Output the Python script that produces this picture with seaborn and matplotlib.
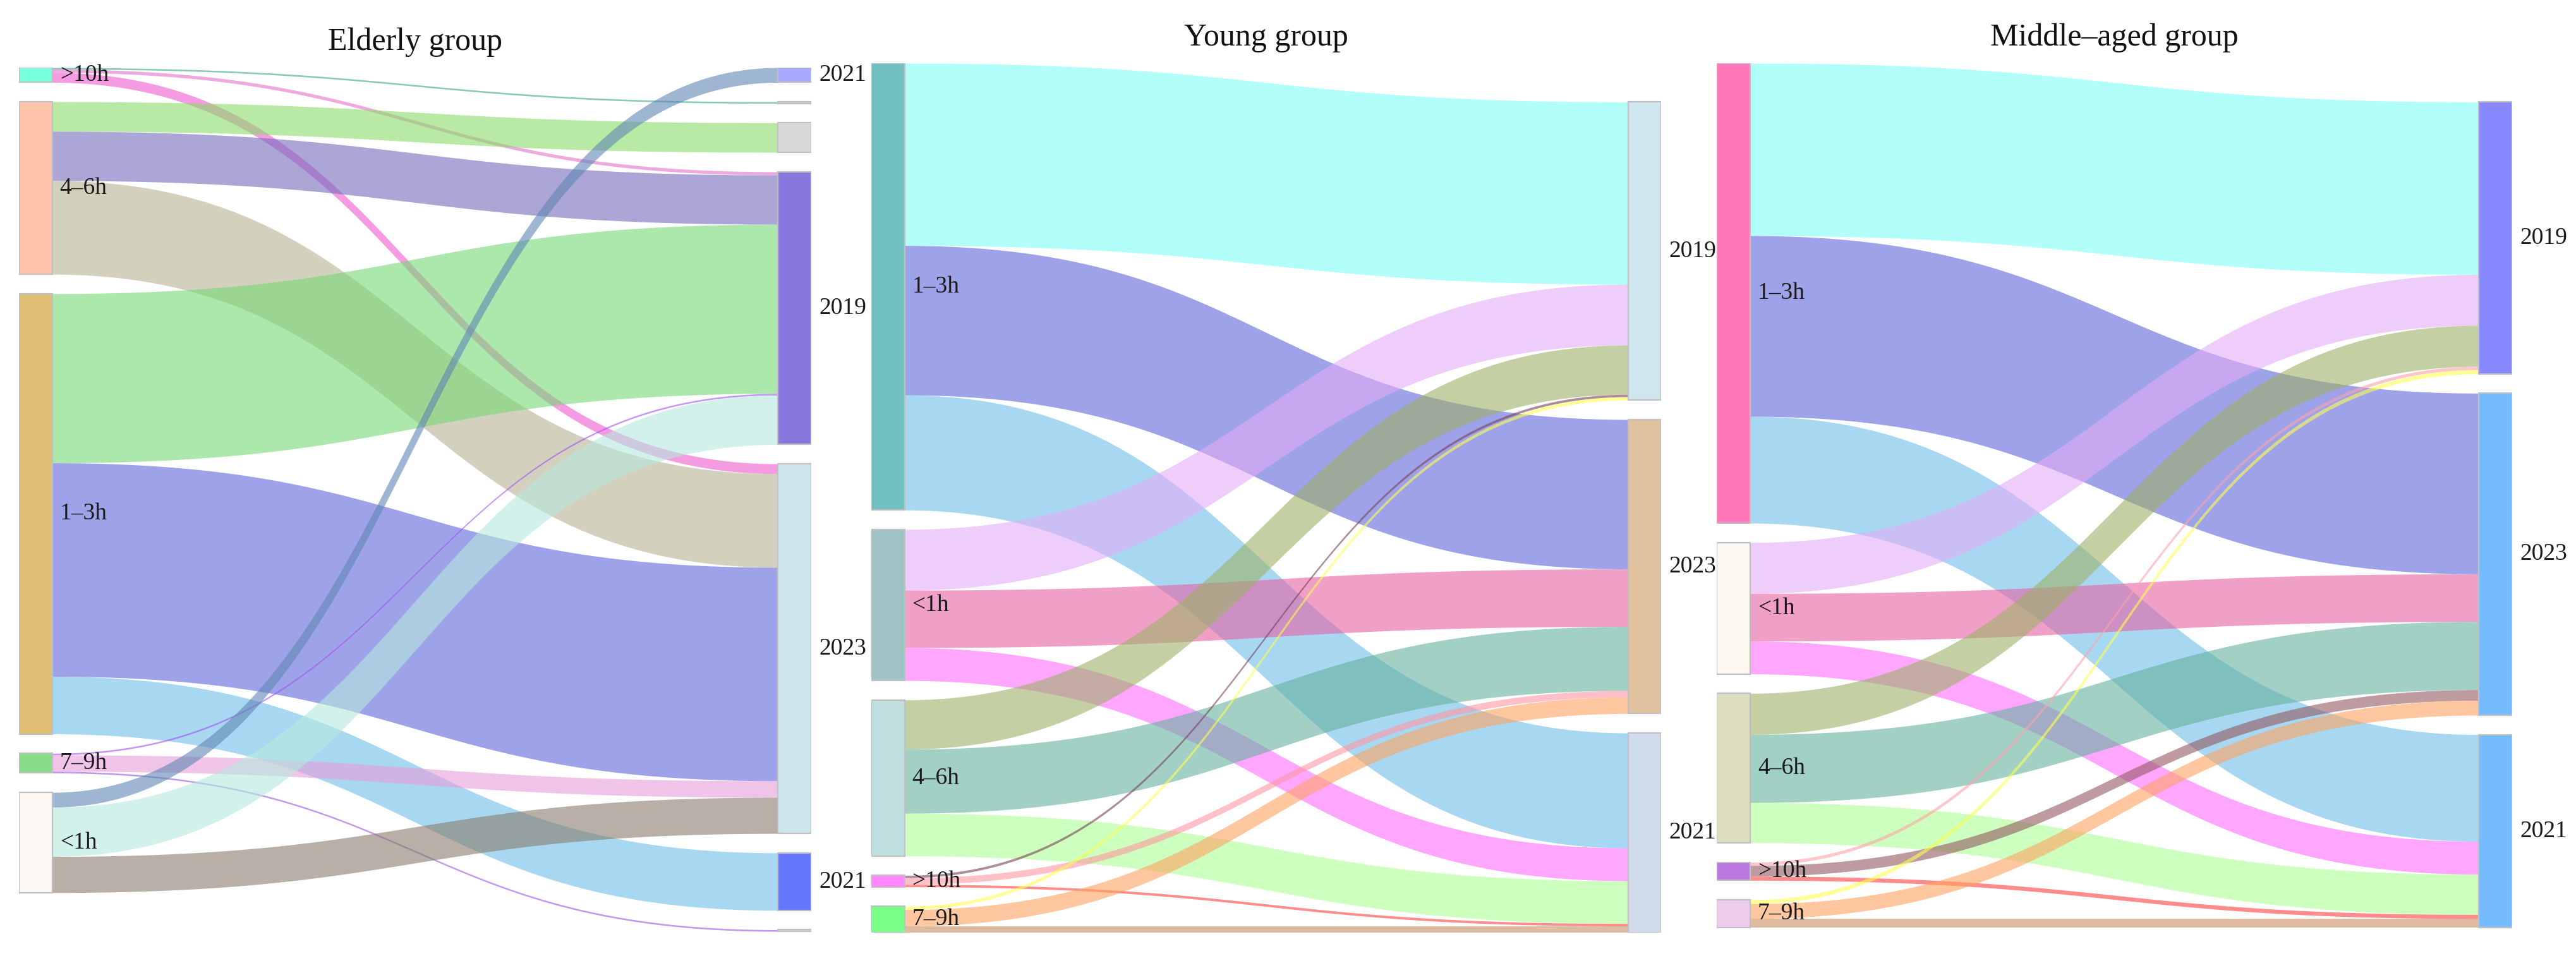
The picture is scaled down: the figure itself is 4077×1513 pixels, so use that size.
import numpy as np
import matplotlib
matplotlib.use("Agg")
import matplotlib.pyplot as plt
import seaborn as sns

# ---------------- data (flow sizes) ----------------
# Elderly group
eld_sources = [">10h", "4–6h", "1–3h", "7–9h", "<1h"]
eld_source_colors = ["#78ffdc", "#ffc4aa", "#dfc074", "#88dd88", "#fcf7f2"]
eld_targets = ["2021", "", "", "2019", "2023", "2021", ""]
eld_target_colors = ["#a8a8ff", "#d0d0d0", "#d8d8d8", "#8877dd", "#cde6ee", "#6677ff", "#d0d0d0"]
eld_link_src = [0, 0, 0, 1, 1, 1, 2, 2, 2, 3, 3, 3, 4, 4, 4]
eld_link_tgt = [1, 3, 4, 2, 3, 4, 3, 4, 5, 3, 4, 6, 0, 3, 4]
eld_link_val = [1, 2, 6, 18, 30, 57, 103, 130, 35, 1, 10, 1, 9, 30, 22]
eld_link_colors = ["#3aa88a", "#e371c8", "#ee58cd", "#8adc69", "#756bbb", "#b6b194",
                   "#76d973", "#5d64d9", "#6ebee9", "#a050f0", "#e69dd9", "#9955dd",
                   "#5f86b4", "#b7e9df", "#897b6b"]

# Young group
yng_sources = ["1–3h", "<1h", "4–6h", ">10h", "7–9h"]
yng_source_colors = ["#73c0c0", "#a0c4c6", "#c0e0e0", "#ff88ff", "#77ff88"]
yng_targets = ["2019", "2023", "2021"]
yng_target_colors = ["#d0e6ee", "#e0c2a0", "#d0dcec"]
yng_link_src = [0, 0, 0, 1, 1, 1, 2, 2, 2, 3, 3, 3, 4, 4, 4]
yng_link_tgt = [0, 1, 2, 0, 1, 2, 0, 1, 2, 0, 1, 2, 0, 1, 2]
yng_link_val = [111, 91, 70, 37, 35, 20, 30, 39, 26, 1.5, 4, 1.5, 2, 10, 4]
yng_link_colors = ["#7ffff7", "#5d64d9", "#6ebee9", "#e3adf7", "#e661a3", "#ff6bff",
                   "#9db167", "#64b19d", "#adff93", "#7a3f5a", "#ff96a3", "#ff3f3f",
                   "#ffff50", "#ffa361", "#cb8f61"]

# Middle-aged group
mid_sources = ["1–3h", "<1h", "4–6h", ">10h", "7–9h"]
mid_source_colors = ["#ff77bb", "#fdf8f2", "#dedec0", "#bb77dd", "#eeccee"]
mid_targets = ["2019", "2023", "2021"]
mid_target_colors = ["#8888ff", "#77bbff", "#77bbff"]
mid_link_src = [0, 0, 0, 1, 1, 1, 2, 2, 2, 3, 3, 3, 4, 4, 4]
mid_link_tgt = [0, 1, 2, 0, 1, 2, 0, 1, 2, 0, 1, 2, 0, 1, 2]
mid_link_val = [105, 110, 65, 31, 29, 20, 25, 41.5, 24.5, 2, 6.5, 2.5, 2.5, 9, 5.5]
mid_link_colors = ["#7ffff7", "#5d64d9", "#6ebee9", "#e3adf7", "#e661a3", "#ff6bff",
                   "#9db167", "#64b19d", "#adff93", "#ffa3ab", "#935861", "#ff3f3f",
                   "#ffff50", "#ffa361", "#cb8f61"]

titles = ["Elderly group", "Young group", "Middle–aged group"]

# ---------------- layout settings ----------------
FIG_W, FIG_H, DPI = 4077, 1513, 200
UNIT_PX = 2.6          # pixels per flow unit
PAD = 11.8             # gap between nodes (flow units)
NODE_W = 0.042         # node width as fraction of panel width
LINK_ALPHA = 0.6
LABEL_SIZE = 13.5
panel_top_px = [107, 100, 100]
panel_left_px = [30, 1379, 2717]
panel_width_px = [1254, 1250, 1259]
right_align = ["top", "bottom", "bottom"]

sns.set_theme(style="white")
plt.rcParams["font.family"] = ["Liberation Serif", "DejaVu Serif"]


def node_sizes(n, idx, vals):
    out = np.zeros(n)
    for i, v in zip(idx, vals):
        out[i] += v
    return out


def stack(sizes, offset):
    tops, y = [], offset
    for s in sizes:
        tops.append(y)
        y += s + PAD
    return np.array(tops)


def column_height(sizes):
    return sizes.sum() + PAD * (len(sizes) - 1)


panels = [
    (eld_sources, eld_source_colors, eld_targets, eld_target_colors,
     eld_link_src, eld_link_tgt, eld_link_val, eld_link_colors),
    (yng_sources, yng_source_colors, yng_targets, yng_target_colors,
     yng_link_src, yng_link_tgt, yng_link_val, yng_link_colors),
    (mid_sources, mid_source_colors, mid_targets, mid_target_colors,
     mid_link_src, mid_link_tgt, mid_link_val, mid_link_colors),
]

heights = []
for p in panels:
    s = node_sizes(len(p[0]), p[4], p[6])
    t = node_sizes(len(p[2]), p[5], p[6])
    heights.append(max(column_height(s), column_height(t)))
H_ALL = max(heights)

fig = plt.figure(figsize=(FIG_W / DPI, FIG_H / DPI), dpi=DPI)
ax_h = H_ALL * UNIT_PX / FIG_H

t = np.linspace(0, 1, 120)
ease_x = 1.5 * t * (1 - t) + t ** 3
ease_y = 3 * t ** 2 - 2 * t ** 3


def draw_panel(ax, title, sources, src_colors, targets, tgt_colors,
               link_src, link_tgt, link_val, link_colors, align, panel_w):
    src_size = node_sizes(len(sources), link_src, link_val)
    tgt_size = node_sizes(len(targets), link_tgt, link_val)
    h_left, h_right = column_height(src_size), column_height(tgt_size)
    h_max = max(h_left, h_right)
    src_top = stack(src_size, 0)
    tgt_top = stack(tgt_size, 0 if align == "top" else h_max - h_right)

    # where each link starts / ends on its nodes
    order_out = sorted(range(len(link_val)), key=lambda k: (link_src[k], link_tgt[k]))
    order_in = sorted(range(len(link_val)), key=lambda k: (link_tgt[k], link_src[k]))
    y_start, y_end = {}, {}
    used = np.zeros(len(sources))
    for k in order_out:
        y_start[k] = src_top[link_src[k]] + used[link_src[k]]
        used[link_src[k]] += link_val[k]
    used = np.zeros(len(targets))
    for k in order_in:
        y_end[k] = tgt_top[link_tgt[k]] + used[link_tgt[k]]
        used[link_tgt[k]] += link_val[k]

    x0, x1 = NODE_W, 1 - NODE_W
    xs = x0 + (x1 - x0) * ease_x
    for k in range(len(link_val)):
        top = y_start[k] + (y_end[k] - y_start[k]) * ease_y
        ax.fill_between(xs, top, top + link_val[k], color=link_colors[k],
                        alpha=LINK_ALPHA, lw=0)

    ax.bar([NODE_W / 2] * len(sources), src_size, bottom=src_top, width=NODE_W,
           color=src_colors, edgecolor="#c0c0c0", linewidth=0.8, zorder=3)
    ax.bar([1 - NODE_W / 2] * len(targets), tgt_size, bottom=tgt_top, width=NODE_W,
           color=tgt_colors, edgecolor="#c0c0c0", linewidth=0.8, zorder=3)

    off = 12 / panel_w
    for name, top, size in zip(sources, src_top, src_size):
        ax.text(NODE_W + off, top + size / 2, name, ha="left", va="center",
                fontsize=LABEL_SIZE, color="#1a1a1a", zorder=4)
    for name, top, size in zip(targets, tgt_top, tgt_size):
        if name:
            ax.text(1 + off, top + size / 2, name, ha="left", va="center",
                    fontsize=LABEL_SIZE, color="#1a1a1a", zorder=4, clip_on=False)

    ax.text(0.5, 1 + 28 / (H_ALL * UNIT_PX), title, transform=ax.transAxes,
            ha="center", va="baseline", fontsize=18, color="#111111")

    ax.set_xlim(0, 1)
    ax.set_ylim(H_ALL, 0)
    ax.axis("off")


for i, p in enumerate(panels):
    ax_top = 1 - panel_top_px[i] / FIG_H
    ax = fig.add_axes([panel_left_px[i] / FIG_W, ax_top - ax_h,
                       panel_width_px[i] / FIG_W, ax_h])
    draw_panel(ax, titles[i], *p, right_align[i], panel_width_px[i])

fig.savefig("out.png", dpi=DPI, facecolor="white")
